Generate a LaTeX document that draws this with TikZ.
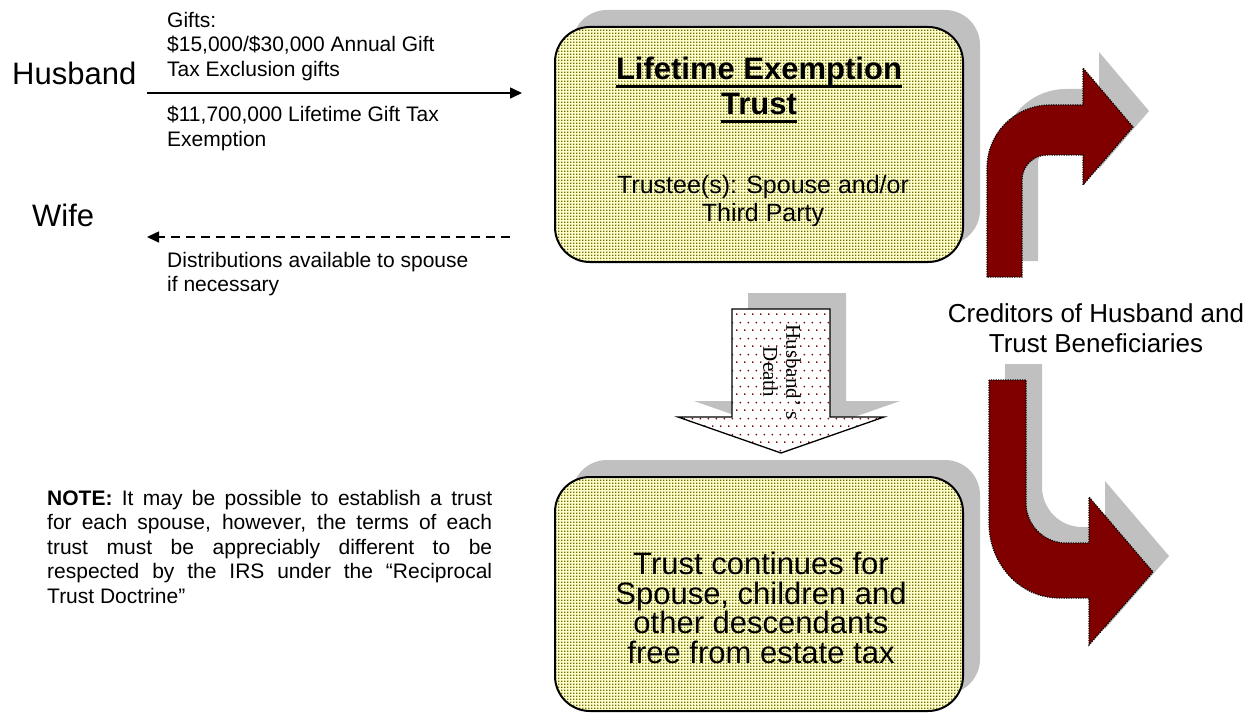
\documentclass[tikz,border=0pt]{standalone}
\usepackage{fontspec}
\setmainfont{Liberation Sans}
\newfontfamily\serifface{Liberation Serif}
\usetikzlibrary{arrows.meta, shadows, patterns.meta}

\definecolor{shadowgray}{RGB}{192,192,192}
\definecolor{darkred}{RGB}{128,0,0}
\definecolor{paleyellow}{RGB}{255,255,204}
\definecolor{olivedot}{RGB}{110,110,0}

\tikzdeclarepattern{
  name=olivegrain, type=uncolored,
  bottom left={(0bp,0bp)}, top right={(3bp,3bp)},
  tile size={(3bp,3bp)},
  code={\fill (0bp,0bp) rectangle (1.8bp,1.8bp);}
}
\tikzdeclarepattern{
  name=reddots, type=uncolored,
  bottom left={(0bp,0bp)}, top right={(8bp,16bp)},
  tile size={(8bp,16bp)},
  code={\fill (0bp,0bp) rectangle (1.6bp,1.6bp);
        \fill (4bp,8bp) rectangle (5.6bp,9.6bp);}
}

\newcommand{\trustul}[1]{\setbox0\hbox{#1}\rlap{\rule[-8bp]{\wd0}{2.6bp}}\box0}

\begin{document}
\begin{tikzpicture}[
  x=1bp, y=-1bp,
  every node/.style={inner sep=0pt},
  >={Triangle[length=12bp, width=11bp]},
  person/.style={font=\fontsize{31bp}{36bp}\selectfont, anchor=base west},
  note/.style={font=\fontsize{21bp}{24.5bp}\selectfont, align=left, anchor=north west},
  trustbox/.style={general shadow={fill=shadowgray, shadow xshift=17bp, shadow yshift=17bp},
    preaction={fill=paleyellow}, pattern=olivegrain, pattern color=olivedot,
    draw=black, line width=2bp, rounded corners=35bp, minimum width=408bp},
  creditarrow/.style={fill=darkred, draw=black, line width=1.2bp, dash pattern=on 1.2bp off 1.2bp},
  arrowshadow/.style={fill=shadowgray, shift={(16,-16)}},
  deathpath/.style={insert path={(732,309) -- (830,309) -- (830,417) -- (884,417)
    -- (781,453) -- (678,417) -- (732,417) -- cycle}},
  upbend/.style={insert path={(987,277) -- (987,168) arc[start angle=180, end angle=270, radius=63]
    -- (1083,105) -- (1083,68) -- (1133,127) -- (1083,185) -- (1083,155) -- (1047,155)
    arc[start angle=270, end angle=180, radius=25] -- (1022,277) -- cycle}},
  downbend/.style={insert path={(989,380) -- (989,523) arc[start angle=180, end angle=90, x radius=70, y radius=75]
    -- (1089,598) -- (1089,645) -- (1153,572) -- (1089,497) -- (1089,543) -- (1066,543)
    arc[start angle=90, end angle=180, radius=40] -- (1026,380) -- cycle}}
]
\path[fill=white, use as bounding box] (0,0) rectangle (1253,715);

% Left side: spouses and transfers
\node[person] (husband) at (12,85) {Husband};
\node[person] (wife) at (32,227) {Wife};

\node[note] (giftsabove) at (167,12) {Gifts:\\\$15,000/\$30,000 Annual Gift\\Tax Exclusion gifts};
\node[note] (giftsbelow) at (167,106) {\$11,700,000 Lifetime Gift Tax\\Exemption};
\node[note] (distlabel) at (167,252) {Distributions available to spouse\\if necessary};

\coordinate (giftfrom) at (147,93);
\coordinate (giftto) at (522,93);
\coordinate (distfrom) at (510,237);
\coordinate (distto) at (147,237);
\draw[->, line width=1.5bp] (giftfrom) -- (giftto);
\draw[->, line width=1.5bp, dash pattern=on 9bp off 6bp] (distfrom) -- (distto);

% Trust boxes
\node[trustbox, minimum height=235bp] (lifetime) at (759,144.5) {};
\node[trustbox, minimum height=234bp] (continues) at (759,594) {};

\node[font=\bfseries\fontsize{31bp}{35bp}\selectfont, align=center, anchor=north] (title) at (759,57)
  {\trustul{Lifetime Exemption}\\\trustul{Trust}};
\node[font=\fontsize{25bp}{28bp}\selectfont, align=center, anchor=north] (trustee) at (763,175)
  {Trustee(s): Spouse and/or\\Third Party};
\node[font=\fontsize{31bp}{29.5bp}\selectfont, align=center, anchor=north] (freetax) at (761,552)
  {Trust continues for\\Spouse, children and\\other descendants\\free from estate tax};

% Husband's death arrow
\fill[arrowshadow, deathpath];
\draw[preaction={fill=white}, pattern=reddots, pattern color=darkred, draw=black, line width=1.3bp, deathpath];
\node[font=\serifface\fontsize{21bp}{23bp}\selectfont, rotate=-90, align=center] (death) at (782,372)
  {Husband’ s\\Death};

% Creditors and their bent arrows
\fill[arrowshadow, upbend];
\draw[creditarrow, upbend];
\fill[arrowshadow, downbend];
\draw[creditarrow, downbend];
\node[font=\fontsize{26bp}{30bp}\selectfont, align=center, anchor=north] (creditors) at (1096,303)
  {Creditors of Husband and\\Trust Beneficiaries};

% Note
\node[note, text width=445bp, align=justify] (notetext) at (47,490)
  {\tolerance=10000 \textbf{NOTE:} It may be possible to establish a trust\linebreak
   for each spouse, however, the terms of each\linebreak
   trust must be appreciably different to be\linebreak
   respected by the IRS under the “Reciprocal\linebreak
   Trust Doctrine”};
\end{tikzpicture}
\end{document}
